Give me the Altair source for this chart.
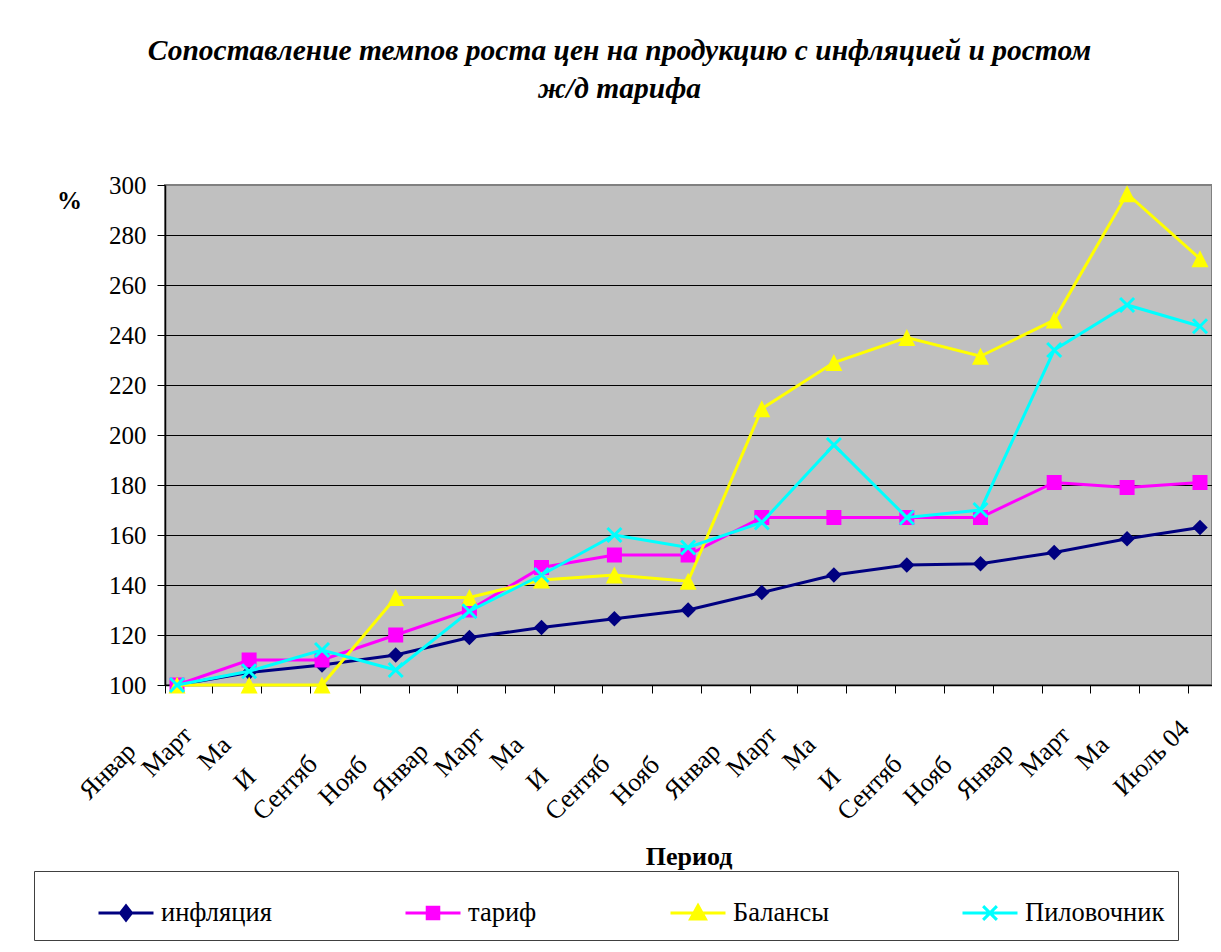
import altair as alt
import pandas as pd
from datetime import datetime, timezone

# ---------------- data ----------------
series_names = ["инфляция", "тариф", "Балансы", "Пиловочник"]
series_colors = ["#000080", "#FF00FF", "#FFFF00", "#00FFFF"]

periods = ["2001-01-16", "2001-04-16", "2001-07-16", "2001-10-16",
           "2002-01-16", "2002-04-16", "2002-07-16", "2002-10-16",
           "2003-01-16", "2003-04-16", "2003-07-16", "2003-10-16",
           "2004-01-16", "2004-04-16", "2004-07-16"]

inflation = [100, 105, 108, 112, 119, 123, 126.5, 130, 137, 144, 148, 148.5, 153, 158.5, 163]
tariff = [100, 110, 110, 120, 130, 147, 152, 152, 167, 167, 167, 167, 181, 179, 181]
balances = [100, 100, 100, 135, 135, 142, 144, 141.5, 210.5, 229, 239, 231.5, 246, 296.5, 270.5]
logs = [100, 105.5, 114, 106, 129.5, 144, 160, 155, 165, 196, 167, 170, 234, 252, 243.5]

tick_dates = ["2001-01-01", "2001-03-01", "2001-05-01", "2001-07-01", "2001-09-01", "2001-11-01",
              "2002-01-01", "2002-03-01", "2002-05-01", "2002-07-01", "2002-09-01", "2002-11-01",
              "2003-01-01", "2003-03-01", "2003-05-01", "2003-07-01", "2003-09-01", "2003-11-01",
              "2004-01-01", "2004-03-01", "2004-05-01", "2004-07-01"]
tick_labels = ["Январ", "Март", "Ма", "И", "Сентяб", "Нояб",
               "Январ", "Март", "Ма", "И", "Сентяб", "Нояб",
               "Январ", "Март", "Ма", "И", "Сентяб", "Нояб",
               "Январ", "Март", "Ма", "Июль 04"]
y_ticks = [100, 120, 140, 160, 180, 200, 220, 240, 260, 280, 300]

title_lines = ["Сопоставление темпов роста цен на продукцию с инфляцией и ростом", "ж/д тарифа"]


def ms(s):
    return int(datetime.strptime(s, "%Y-%m-%d").replace(tzinfo=timezone.utc).timestamp() * 1000)


tick_ms = [ms(s) for s in tick_dates]
x_domain = [ms("2001-01-01"), ms("2004-07-31")]

rows = []
for name, vals in zip(series_names, [inflation, tariff, balances, logs]):
    for p, v in zip(periods, vals):
        rows.append({"date": p, "series": name, "value": v})
df = pd.DataFrame(rows)
ticks_df = pd.DataFrame({"date": tick_dates, "label": tick_labels})

FONT = "Liberation Serif"

x_scale = alt.Scale(type="utc", domain=x_domain, nice=False)
x_axis = alt.Axis(
    values=tick_ms, labels=False,
    tickSize=8, tickColor="black", tickWidth=1, domainColor="black", domainWidth=1.5,
    grid=False, title="Период", titleFont=FONT, titleFontSize=26, titleFontWeight="bold",
    titleColor="black", titleY=171, titleBaseline="middle",
)
x_enc = alt.X("date:T", scale=x_scale, axis=x_axis)
y_enc = alt.Y(
    "value:Q",
    scale=alt.Scale(domain=[100, 300], nice=False, zero=False),
    axis=alt.Axis(
        values=y_ticks, labelFont=FONT, labelFontSize=25, labelColor="black", labelPadding=11,
        tickSize=8, tickColor="black", domainColor="black", domainWidth=1.5,
        grid=True, gridColor="black", gridWidth=1,
        gridOpacity={"condition": {"test": "datum.value >= 300 || datum.value <= 100", "value": 0}, "value": 1},
        title="%", titleAngle=0, titleX=-96, titleY=15, titleAlign="center", titleBaseline="middle",
        titleFont=FONT, titleFontSize=25, titleFontWeight="bold", titleColor="black",
    ),
)

base = alt.Chart(df)

marker_shapes = ["M0,-1L1,0L0,1L-1,0Z", "square", "M0,-1L1,1H-1Z", "M-1,-1L1,1M-1,1L1,-1"]
marker_sizes = [240, 225, 289, 196]

layers = []
for name, col, shp, sz in zip(series_names, series_colors, marker_shapes, marker_sizes):
    filt = alt.datum.series == name
    line = base.mark_line(strokeWidth=3, color=col).encode(x=x_enc, y=y_enc).transform_filter(filt)
    if shp.startswith("M-1,-1"):
        pts = base.mark_point(shape=shp, size=sz, filled=False, strokeWidth=3, opacity=1, color=col)
    else:
        pts = base.mark_point(shape=shp, size=sz, filled=True, opacity=1, color=col)
    pts = pts.encode(x=x_enc, y=y_enc).transform_filter(filt)
    layers += [line, pts]

# x tick labels (clipped-looking category labels), one text layer per label style
# offsets are in the rotated text frame (along text, across text)
label_shift = {
    "Январ": (-67.5, 20.3), "Март": (-49.8, 15.3), "Ма": (-63.9, 15.3), "И": (-103.5, 21),
    "Сентяб": (-85.9, 20.3), "Нояб": (-85.9, 21.7), "Июль 04": (-30, 26),
}
for lab, (ddx, ddy) in label_shift.items():
    t = alt.Chart(ticks_df).mark_text(
        angle=315, align="right", baseline="middle", font=FONT, fontSize=26,
        color="black", dx=ddx, dy=ddy,
    ).encode(
        x=alt.X("date:T", scale=x_scale, axis=x_axis),
        y=alt.value(500),
        text="label:N",
    ).transform_filter(alt.datum.label == lab)
    layers.append(t)

legend_paths = [
    "M-1,0H1M0,-0.26L0.2,0L0,0.26L-0.2,0Z",
    "M-1,0H1M-0.21,-0.21H0.21V0.21H-0.21Z",
    "M-1,0H1M0,-0.27L0.27,0.22H-0.27Z",
    "M-1,0H1M-0.25,-0.25L0.25,0.25M-0.25,0.25L0.25,-0.25",
]

leg = alt.Legend(
    title="\u00a0", orient="none", legendX=-131, legendY=686, direction="horizontal",
    columns=4, gridAlign="none", columnPadding=127, symbolSize=3025, symbolStrokeWidth=3,
    labelFont=FONT, labelFontSize=26.5, labelColor="black", labelOffset=6, labelLimit=600,
    labelExpr="datum.label == '%s' ? datum.label + '%s' : datum.label" % (series_names[-1], "\u00a0" * 9),
    padding=13, strokeColor="#404040", fillColor="white",
    titleOrient="left", titlePadding=50, titleFontSize=25, titleFont=FONT,
)

legend_layer = base.mark_point(filled=True, opacity=1, strokeWidth=3).encode(
    x=x_enc, y=y_enc,
    color=alt.Color("series:N", scale=alt.Scale(domain=series_names, range=series_colors), legend=leg),
    stroke=alt.Stroke("series:N", scale=alt.Scale(domain=series_names, range=series_colors), legend=leg),
    shape=alt.Shape("series:N", scale=alt.Scale(domain=series_names, range=legend_paths), legend=leg),
).transform_filter("false")

layers.append(legend_layer)

chart = alt.layer(*layers).properties(
    width=1047, height=500,
    autosize=alt.AutoSizeParams(type="none"),
    padding={"left": 157, "top": 177, "right": 0, "bottom": 259},
    background="white",
    title=alt.TitleParams(
        text=title_lines, font=FONT, fontSize=29.5, fontWeight="bold", fontStyle="italic",
        anchor="middle", dx=-69, dy=-1.5, offset=67, lineHeight=38, color="black",
    ),
).configure(font=FONT).configure_axis(labelFont=FONT, titleFont=FONT).configure_legend(
    labelFont=FONT, titleFont=FONT
).configure_view(fill="#C0C0C0", stroke="#808080", strokeWidth=2)

chart.save("out.html", embed_options={"renderer": "svg", "actions": False})
